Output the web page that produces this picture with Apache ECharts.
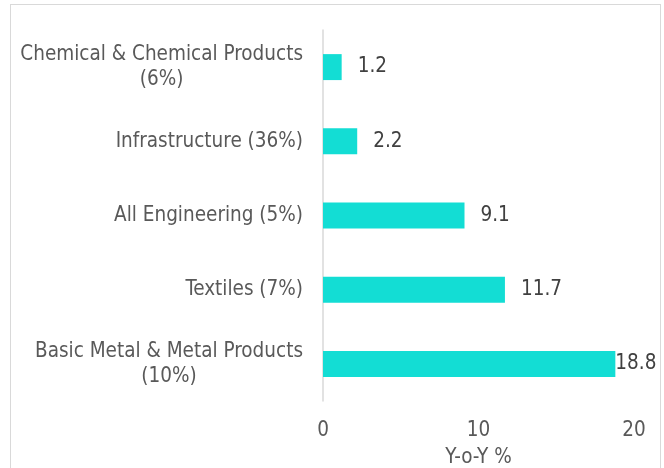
<!DOCTYPE html>
<html>
<head>
<meta charset="utf-8">
<script src="https://cdn.jsdelivr.net/npm/echarts@6/dist/echarts.min.js"></script>
<style>
  html, body { margin: 0; padding: 0; background: #fff; overflow: hidden; width: 664px; height: 468px; }
  #frame { position: absolute; left: 10px; top: 4px; width: 651px; height: 470px; border: 1px solid #d9d9d9; border-bottom: none; box-sizing: border-box; }
  #chart { position: absolute; left: 0; top: 0; width: 664px; height: 468px; }
</style>
</head>
<body>
<div id="frame"></div>
<div id="chart"></div>
<script>
// Industry groups (weight in brackets), bottom to top
const categories = [
  'Basic Metal & Metal Products\n(10%)',
  'Textiles (7%)',
  'All Engineering (5%)',
  'Infrastructure (36%)',
  'Chemical & Chemical Products\n(6%)'
];
const yoyGrowth = [18.8, 11.7, 9.1, 2.2, 1.2];
const axisTitle = 'Y-o-Y %';
const axisMax = 20;

const chart = echarts.init(document.getElementById('chart'), null, { renderer: 'canvas' });
const font = '"DejaVu Sans Condensed", Tahoma, "DejaVu Sans", sans-serif';
const fs = 20.5;

// labels of bars that run close to the axis end sit right at the bar tip
const barData = yoyGrowth.map(v => ({
  value: v,
  label: v > axisMax * 0.9 ? { distance: 0 } : undefined
}));

chart.setOption({
  backgroundColor: 'transparent',
  animation: false,
  grid: { left: 323, right: 30, top: 30, bottom: 67, containLabel: false, outerBoundsMode: 'none' },
  xAxis: {
    type: 'value',
    min: 0, max: axisMax, interval: 10,
    name: axisTitle,
    nameLocation: 'middle',
    nameGap: 46,
    nameTextStyle: { color: '#595959', fontSize: fs, fontFamily: font },
    axisLine: { show: false },
    axisTick: { show: false },
    splitLine: { show: false },
    axisLabel: { color: '#595959', fontSize: fs, fontFamily: font, margin: 19 }
  },
  yAxis: {
    type: 'category',
    data: categories,
    axisLine: { show: true, lineStyle: { color: '#d9d9d9', width: 1.5 } },
    axisTick: { show: false },
    axisLabel: { color: '#595959', fontSize: fs, fontFamily: font, margin: 20, align: 'right', lineHeight: 25,
      formatter: v => v.includes('\n') ? v.replace(/\n(.*)$/, '\n{c|$1}') : v,
      rich: { c: { align: 'center', width: 100, fontSize: fs, fontFamily: font, color: '#595959', lineHeight: 25 } }
    }
  },
  series: [{
    type: 'bar',
    data: barData,
    barWidth: '35%',
    itemStyle: { color: '#13DDD4' },
    label: { show: true, position: 'right', distance: 16, color: '#404040', fontSize: fs, fontFamily: font }
  }]
});
</script>
</body>
</html>
